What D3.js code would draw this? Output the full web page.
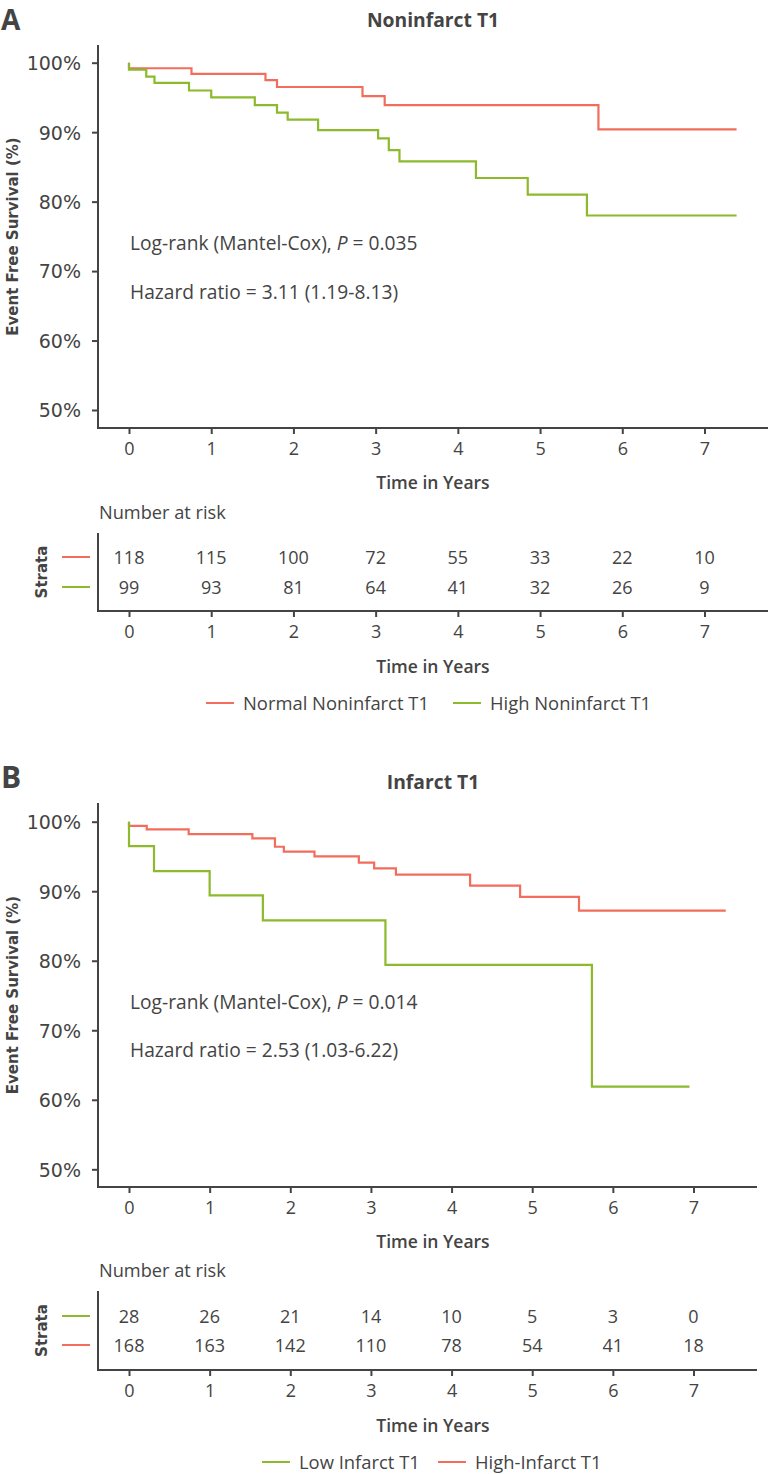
<!DOCTYPE html>
<html>
<head>
<meta charset="utf-8">
<script src="https://cdn.jsdelivr.net/npm/d3@7"></script>
<style>
  html, body { margin: 0; padding: 0; background: #fff; }
  svg { display: block; }
  text { fill: #444; font-family: "Open Sans", sans-serif; }
</style>
</head>
<body>
<svg id="chart" width="768" height="1474"></svg>
<script>
// ---------- DATA ----------
const years = [0, 1, 2, 3, 4, 5, 6, 7];
const yTicks = [50, 60, 70, 80, 90, 100];

// Panel A: Noninfarct T1
const aNormalTimes = [0, 0, 0.76, 1.66, 1.80, 2.84, 3.11, 5.71, 7.39];
const aNormalSurv  = [100, 99.2, 98.4, 97.5, 96.5, 95.2, 93.9, 90.4, 90.4];
const aHighTimes = [0, 0, 0.21, 0.31, 0.73, 1.00, 1.53, 1.80, 1.93, 2.30, 3.03, 3.16, 3.29, 4.22, 4.85, 5.57, 7.39];
const aHighSurv  = [100, 99.0, 98.0, 97.1, 96.0, 95.0, 93.9, 92.8, 91.8, 90.3, 89.1, 87.4, 85.8, 83.4, 81.0, 78.0, 78.0];
const aNormalRisk = [118, 115, 100, 72, 55, 33, 22, 10];
const aHighRisk   = [99, 93, 81, 64, 41, 32, 26, 9];

// Panel B: Infarct T1
const bLowTimes = [0, 0, 0.31, 1.00, 1.66, 3.18, 5.74, 6.95];
const bLowSurv  = [100, 96.5, 92.9, 89.4, 85.8, 79.4, 61.9, 61.9];
const bHighTimes = [0, 0, 0.22, 0.74, 1.53, 1.81, 1.92, 2.30, 2.85, 3.04, 3.31, 4.23, 4.85, 5.58, 7.40];
const bHighSurv  = [100, 99.4, 98.9, 98.2, 97.6, 96.4, 95.7, 95.0, 94.1, 93.3, 92.4, 90.8, 89.2, 87.2, 87.2];
const bLowRisk  = [28, 26, 21, 14, 10, 5, 3, 0];
const bHighRisk = [168, 163, 142, 110, 78, 54, 41, 18];

const RED = "#f26d5c";
const GREEN = "#8cba2c";
const AXIS = "#444";

// ---------- DRAW ----------
const svg = d3.select("#chart");
const fmtInt = d3.format("d");

function drawPanel(cfg) {
  const g = svg.append("g");
  const x = d3.scaleLinear().domain([0, 7]).range([129, cfg.x7]);
  const y = d3.scaleLinear().domain([50, 100]).range([cfg.y50, cfg.y100]);

  // panel letter & title
  g.append("text").attr("x", 1).attr("y", cfg.letterY)
    .attr("font-size", cfg.letterSize).attr("font-weight", 700).text(cfg.letter);
  g.append("text").attr("x", 433).attr("y", cfg.titleY).attr("text-anchor", "middle")
    .attr("font-size", 19.3).attr("font-weight", 700).text(cfg.title);

  // y axis
  const yAxis = d3.axisLeft(y).tickValues(yTicks).tickSize(6).tickPadding(11)
    .tickFormat(d => d + "%");
  const yg = g.append("g").attr("transform", "translate(98,0)").call(yAxis);
  yg.select(".domain").remove();
  yg.selectAll(".tick line").attr("stroke", AXIS).attr("stroke-width", 2);
  yg.selectAll(".tick text").attr("fill", "#444").style("font-family", "DejaVu Sans")
    .attr("font-size", 19).attr("dy", "0.36em");
  g.append("line").attr("x1", 98).attr("x2", 98).attr("y1", cfg.axTop).attr("y2", cfg.axY + 1)
    .attr("stroke", AXIS).attr("stroke-width", 2);

  // x axis
  const xAxis = d3.axisBottom(x).tickValues(years).tickSize(6).tickPadding(8).tickFormat(fmtInt);
  const xg = g.append("g").attr("transform", `translate(0,${cfg.axY})`).call(xAxis);
  xg.select(".domain").remove();
  xg.selectAll(".tick line").attr("stroke", AXIS).attr("stroke-width", 2);
  xg.selectAll(".tick text").attr("fill", "#444").style("font-family", "Open Sans")
    .attr("font-size", 18);
  g.append("line").attr("x1", 97).attr("x2", cfg.axRight).attr("y1", cfg.axY).attr("y2", cfg.axY)
    .attr("stroke", AXIS).attr("stroke-width", 2);
  g.append("text").attr("x", 433).attr("y", cfg.axY + 61).attr("text-anchor", "middle")
    .attr("font-size", 17.5).attr("font-weight", 600).text("Time in Years");

  // y label
  g.append("text").attr("transform", `translate(18,${(cfg.axTop + cfg.axY) / 2}) rotate(-90)`)
    .attr("text-anchor", "middle").attr("font-size", 15).attr("font-weight", 700)
    .style("font-family", "DejaVu Sans").text("Event Free Survival (%)");

  // curves
  const line = d3.line().x(d => x(d[0])).y(d => y(d[1])).curve(d3.curveStepAfter);
  cfg.series.forEach(s => {
    const pts = s.times.map((t, i) => [t, s.surv[i]]);
    g.append("path").datum(pts).attr("d", line).attr("fill", "none")
      .attr("stroke", s.color).attr("stroke-width", 2.2);
  });

  // annotations
  g.append("text").attr("x", 130).attr("y", cfg.logY).attr("font-size", 19.2)
    .call(t => {
      t.append("tspan").text("Log-rank (Mantel-Cox), ");
      t.append("tspan").attr("font-style", "italic").text("P");
      t.append("tspan").text(" = " + cfg.p);
    });
  g.append("text").attr("x", 130).attr("y", cfg.hrY).attr("font-size", 19.2).text(cfg.hr);

  // risk table
  const r = cfg.risk;
  g.append("text").attr("x", 99).attr("y", r.top - 14).attr("font-size", 18.2).text("Number at risk");
  g.append("line").attr("x1", 98).attr("x2", 98).attr("y1", r.top).attr("y2", r.axY + 1)
    .attr("stroke", AXIS).attr("stroke-width", 2);
  g.append("line").attr("x1", 97).attr("x2", cfg.axRight).attr("y1", r.axY).attr("y2", r.axY)
    .attr("stroke", AXIS).attr("stroke-width", 2);
  const rx = d3.axisBottom(x).tickValues(years).tickSize(6).tickPadding(8).tickFormat(fmtInt);
  const rg = g.append("g").attr("transform", `translate(0,${r.axY})`).call(rx);
  rg.select(".domain").remove();
  rg.selectAll(".tick line").attr("stroke", AXIS).attr("stroke-width", 2);
  rg.selectAll(".tick text").attr("fill", "#444").style("font-family", "Open Sans").attr("font-size", 18);
  g.append("text").attr("x", 433).attr("y", r.axY + 62).attr("text-anchor", "middle")
    .attr("font-size", 17.5).attr("font-weight", 600).text("Time in Years");
  g.append("text").attr("transform", `translate(47,${(r.row1 + r.row2) / 2}) rotate(-90)`)
    .attr("text-anchor", "middle").attr("font-size", 15).attr("font-weight", 700)
    .style("font-family", "DejaVu Sans").text("Strata");
  r.rows.forEach((row, i) => {
    const yy = i === 0 ? r.row1 : r.row2;
    g.append("line").attr("x1", 62).attr("x2", 90).attr("y1", yy).attr("y2", yy)
      .attr("stroke", row.color).attr("stroke-width", 2);
    g.selectAll(null).data(row.values).enter().append("text")
      .attr("x", (d, j) => x(years[j])).attr("y", yy + 6.5).attr("text-anchor", "middle")
      .attr("font-size", 18).text(d => d);
  });

  // legend
  const L = cfg.legend;
  L.items.forEach(it => {
    g.append("line").attr("x1", it.x).attr("x2", it.x + 28).attr("y1", L.y).attr("y2", L.y)
      .attr("stroke", it.color).attr("stroke-width", 2);
    g.append("text").attr("x", it.x + 37).attr("y", L.y + 6.5).attr("font-size", 18.4).text(it.label);
  });
}

drawPanel({
  letter: "A", letterY: 30, letterSize: 28, title: "Noninfarct T1", titleY: 27,
  x7: 704.5, y50: 410, y100: 62.7, axTop: 45, axY: 428, axRight: 768,
  series: [
    { times: aNormalTimes, surv: aNormalSurv, color: RED },
    { times: aHighTimes, surv: aHighSurv, color: GREEN }
  ],
  p: "0.035", hr: "Hazard ratio = 3.11 (1.19-8.13)", logY: 250, hrY: 299,
  risk: { top: 533, axY: 611, row1: 557, row2: 587,
    rows: [ { values: aNormalRisk, color: RED }, { values: aHighRisk, color: GREEN } ] },
  legend: { y: 703, items: [
    { x: 206, color: RED, label: "Normal Noninfarct T1" },
    { x: 453, color: GREEN, label: "High Noninfarct T1" } ] }
});

drawPanel({
  letter: "B", letterY: 788, letterSize: 30, title: "Infarct T1", titleY: 789,
  x7: 693.5, y50: 1169.3, y100: 821.7, axTop: 803, axY: 1187, axRight: 757,
  series: [
    { times: bHighTimes, surv: bHighSurv, color: RED },
    { times: bLowTimes, surv: bLowSurv, color: GREEN }
  ],
  p: "0.014", hr: "Hazard ratio = 2.53 (1.03-6.22)", logY: 1009, hrY: 1057,
  risk: { top: 1291, axY: 1370, row1: 1316, row2: 1345,
    rows: [ { values: bLowRisk, color: GREEN }, { values: bHighRisk, color: RED } ] },
  legend: { y: 1462, items: [
    { x: 262, color: GREEN, label: "Low Infarct T1" },
    { x: 438, color: RED, label: "High-Infarct T1" } ] }
});
</script>
</body>
</html>
